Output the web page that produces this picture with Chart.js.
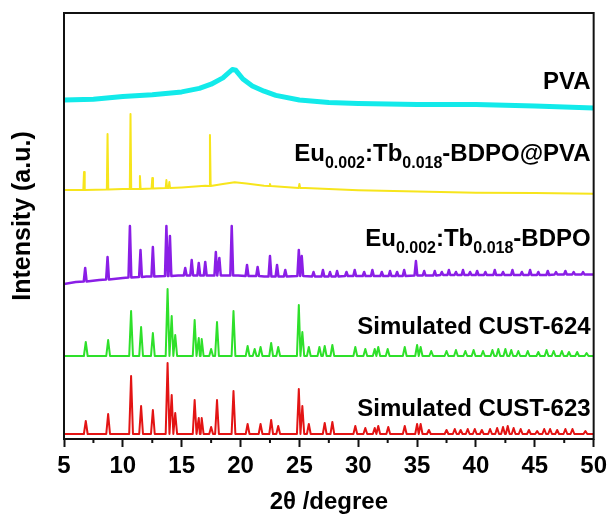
<!DOCTYPE html>
<html>
<head>
<meta charset="utf-8">
<script src="https://cdn.jsdelivr.net/npm/chart.js@4.4.0/dist/chart.umd.min.js"></script>
<style>
  body { margin: 0; background: #fff; }
  canvas { display: block; }
</style>
</head>
<body>
<canvas id="xrd" width="612" height="524"></canvas>
<script>
// --- data (2theta in degrees, intensity in arbitrary units) ---

// Simulated CUST-623
const redPeaks = [6.85, 8.75, 10.7, 11.55, 12.55, 13.8, 14.15, 14.45, 16.1, 16.45, 16.7, 17.5, 18.0, 19.4,
  20.6, 21.7, 22.6, 23.2, 24.95, 25.25, 25.8, 27.15, 27.8, 29.75, 30.6, 31.4, 31.7, 32.55, 33.95, 35.0, 35.3,
  36.0, 37.5, 38.2, 38.7, 39.3, 39.9, 40.5, 41.2, 41.8, 42.3, 42.7, 43.2, 43.8, 44.5, 45.2, 45.8, 46.3, 46.9,
  47.6, 48.2, 49.3]
const redInt = [13, 20, 58, 28, 24, 71, 39, 21, 34, 16, 16, 7, 34, 43,
  10, 10, 14, 8, 45, 28, 10, 11, 12, 8, 6, 6, 8, 7, 8, 10, 10,
  4, 4, 5, 4, 5, 5, 4, 5, 6, 7, 8, 6, 5, 4, 3, 5, 5, 4,
  5, 5, 3]

// Simulated CUST-624
const greenPeaks = [6.85, 8.75, 10.7, 11.55, 12.55, 13.8, 14.15, 14.45, 16.1, 16.45, 16.7, 17.5, 18.0, 19.4,
  20.6, 21.2, 21.7, 22.6, 23.2, 24.95, 25.25, 25.8, 26.7, 27.15, 27.8, 29.75, 30.6, 31.4, 31.7, 32.5, 33.95,
  35.0, 35.3, 36.2, 37.5, 38.3, 39.1, 39.8, 40.6, 41.4, 41.9, 42.5, 43.0, 43.6, 44.4, 45.3, 46.0, 46.6, 47.3,
  47.9, 48.6, 49.4]
const greenInt = [14, 16, 45, 29, 23, 67, 40, 21, 36, 18, 17, 7, 34, 45,
  10, 7, 9, 13, 9, 51, 24, 9, 9, 10, 11, 9, 7, 7, 9, 7, 9,
  11, 9, 5, 5, 6, 5, 6, 5, 6, 7, 7, 6, 5, 5, 4, 6, 5, 5,
  4, 4, 3]

// Eu0.002:Tb0.018-BDPO
const purplePeaks = [6.8, 8.7, 10.6, 11.5, 12.55, 13.7, 14.0, 15.3, 15.85, 16.45, 17.0, 17.9, 18.2, 19.25,
  20.55, 21.45, 22.5, 23.1, 23.8, 24.95, 25.2, 26.2, 27.0, 27.6, 28.2, 29.0, 29.7, 30.5, 31.2, 32.0, 32.7,
  33.3, 33.9, 34.9, 35.6, 36.5, 37.1, 37.7, 38.3, 38.9, 39.5, 40.1, 40.8, 41.6, 42.3, 43.1, 43.9, 44.6,
  45.3, 46.1, 46.8, 47.6, 48.3, 49.1]
const purpleTop = [16, 27, 58, 34, 37, 58, 48, 16, 24, 21, 22, 32, 26, 58,
  19, 17, 28, 19, 14, 34, 28, 12, 14, 12, 13, 12, 14, 12, 14, 12, 13,
  12, 14, 23, 13, 13, 12, 14, 12, 14, 12, 13, 12, 14, 12, 14, 12, 14,
  12, 13, 12, 13, 12, 12]
const purpleFoot = [2.5, 4.5, 6.5, 7, 7.5, 8, 8, 8.5, 8.5, 8.5, 8.5, 8.5, 8.5, 8.5,
  8, 8, 7.5, 7.5, 7.5, 8, 8, 7.5, 7.5, 7.5, 7.5, 8, 8, 8, 8, 8, 8,
  8, 8, 8.5, 8.5, 8.5, 9, 9, 9, 9, 9, 9, 9, 9, 9, 9, 9, 9,
  9, 9, 9.5, 9.5, 9.5, 9.5]
const purpleBgX = [5, 6, 8, 10, 12, 14.7, 19.8, 22, 26.6, 30, 36, 40.4, 45, 50]
const purpleBgY = [0, 2, 4, 6, 7.5, 8.5, 8.5, 7.5, 7.5, 8, 8.5, 9, 9, 9.5]

// Eu0.002:Tb0.018-BDPO@PVA
const yellowPeaks = [6.7, 8.7, 10.65, 11.45, 12.5, 13.7, 13.95, 17.4, 22.5, 25.0]
const yellowTop = [18, 56, 76, 14, 12, 10, 8, 55, 6, 6]
const yellowFoot = [0, 0.5, 1, 1, 1.5, 2, 2, 4, 4, 2]
const yellowBgX = [5, 10, 15, 17, 18.5, 19.5, 20.5, 22, 25.5, 30, 35, 40, 45, 50]
const yellowBgY = [0, 1, 2.6, 4.3, 6, 7.8, 6.5, 4.3, 1.9, -0.2, -1.6, -2.7, -3, -3.7]

// PVA (amorphous hump only)
const cyanBgX = [5, 7.5, 10, 12.5, 15, 16.5, 17.5, 18.5, 19.3, 19.6, 20.2, 21, 22, 23, 25, 27.5, 30, 35, 40, 45, 50]
const cyanBgY = [0, 0.7, 3.5, 5.3, 8.1, 11.6, 15.8, 22.1, 30.5, 29.7, 21, 14, 8.8, 4.6, 0, -2.4, -3.4, -4.5, -4.5, -5.9, -8]

const xTickLabels = ["5", "10", "15", "20", "25", "30", "35", "40", "45", "50"]

// --- build line points for each trace ---
function buildTrace(peaks, tops, feet, bgX, bgY, offset, halfWidth) {
  const pts = []
  const inPeak = x => peaks.some(p => Math.abs(x - p) <= halfWidth)
  for (let i = 0; i < bgX.length; i++) {
    if (!inPeak(bgX[i])) pts.push({ x: bgX[i], y: bgY[i] + offset })
  }
  for (let i = 0; i < peaks.length; i++) {
    const f = feet ? feet[i] : 0
    pts.push({ x: peaks[i] - halfWidth, y: f + offset })
    pts.push({ x: peaks[i], y: tops[i] + offset })
    pts.push({ x: peaks[i] + halfWidth, y: f + offset })
  }
  return pts.sort((a, b) => a.x - b.x)
}

const flatX = [5, 50]
const flatY = [0, 0]

const traces = [
  { data: buildTrace(redPeaks, redInt, null, flatX, flatY, 5, 0.16), color: "#e31414", width: 2 },
  { data: buildTrace(greenPeaks, greenInt, null, flatX, flatY, 83, 0.16), color: "#2ee02a", width: 2 },
  { data: buildTrace(purplePeaks, purpleTop, purpleFoot, purpleBgX, purpleBgY, 155, 0.12), color: "#8a1ee6", width: 2.5 },
  { data: buildTrace(yellowPeaks, yellowTop, yellowFoot, yellowBgX, yellowBgY, 249, 0.06), color: "#f7e51c", width: 2 },
  { data: buildTrace([], [], null, cyanBgX, cyanBgY, 339, 0.1), color: "#12eaea", width: 5 },
]

const FONT = 'Arial, "Liberation Sans", sans-serif'

// draws frame, minor ticks and all the text labels
const decorPlugin = {
  id: "decor",
  afterDraw(chart) {
    const { ctx, chartArea } = chart
    const { left, right, top, bottom } = chartArea
    const xs = chart.scales.x
    ctx.save()
    ctx.strokeStyle = "#111"
    ctx.lineWidth = 2
    ctx.strokeRect(left, top, right - left, bottom - top)

    // minor ticks
    ctx.beginPath()
    xs.ticks.forEach(t => {
      if (t.value % 5 !== 0) {
        const px = xs.getPixelForValue(t.value)
        ctx.moveTo(px, bottom)
        ctx.lineTo(px, bottom + 4)
      }
    })
    ctx.stroke()

    ctx.fillStyle = "#000"
    ctx.textBaseline = "alphabetic"

    const rich = (parts, xRight, yBase) => {
      let w = 0
      parts.forEach(p => {
        ctx.font = `bold ${p[1] ? 16 : 24}px ${FONT}`
        w += ctx.measureText(p[0]).width
      })
      let x = xRight - w
      ctx.textAlign = "left"
      parts.forEach(p => {
        ctx.font = `bold ${p[1] ? 16 : 24}px ${FONT}`
        ctx.fillText(p[0], x, yBase + (p[1] ? 7 : 0))
        x += ctx.measureText(p[0]).width
      })
    }

    const rx = right - 3
    rich([["PVA"]], rx, 89)
    rich([["Eu"], ["0.002", 1], [":Tb"], ["0.018", 1], ["-BDPO@PVA"]], rx, 161)
    rich([["Eu"], ["0.002", 1], [":Tb"], ["0.018", 1], ["-BDPO"]], rx, 246)
    rich([["Simulated CUST-624"]], rx, 334)
    rich([["Simulated CUST-623"]], rx, 416)

    // axis titles
    ctx.font = `bold 24px ${FONT}`
    ctx.textAlign = "center"
    ctx.fillText("2\u03b8 /degree", (left + right) / 2, 509)

    ctx.translate(23, 216)
    ctx.rotate(-Math.PI / 2)
    ctx.textBaseline = "middle"
    ctx.font = `bold 25px ${FONT}`
    ctx.fillText("Intensity (a.u.)", 0, 0)
    ctx.restore()
  },
}

new Chart(document.getElementById("xrd"), {
  type: "line",
  data: {
    datasets: traces.map(t => ({
      data: t.data,
      borderColor: t.color,
      borderWidth: t.width,
      borderJoinStyle: "round",
      pointRadius: 0,
      tension: 0,
      fill: false,
    })),
  },
  options: {
    responsive: false,
    animation: false,
    layout: { padding: { left: 64, right: 15, top: 13, bottom: 0 } },
    plugins: { legend: { display: false }, tooltip: { enabled: false } },
    scales: {
      x: {
        type: "linear",
        min: 5,
        max: 50,
        afterFit: s => {
          s.height = 85
        },
        border: { display: false },
        grid: {
          drawOnChartArea: false,
          drawTicks: true,
          tickLength: 8,
          tickWidth: 2,
          tickColor: c => (c.tick && c.tick.value % 5 === 0 ? "#111" : "rgba(0,0,0,0)"),
        },
        ticks: {
          stepSize: 2.5,
          autoSkip: false,
          maxRotation: 0,
          padding: 5,
          color: "#000",
          font: { family: FONT, size: 24, weight: "bold" },
          callback: v => (v % 5 === 0 ? xTickLabels[(v - 5) / 5] : ""),
        },
      },
      y: {
        display: false,
        min: 0,
        max: 426,
      },
    },
  },
  plugins: [decorPlugin],
})
</script>
</body>
</html>
